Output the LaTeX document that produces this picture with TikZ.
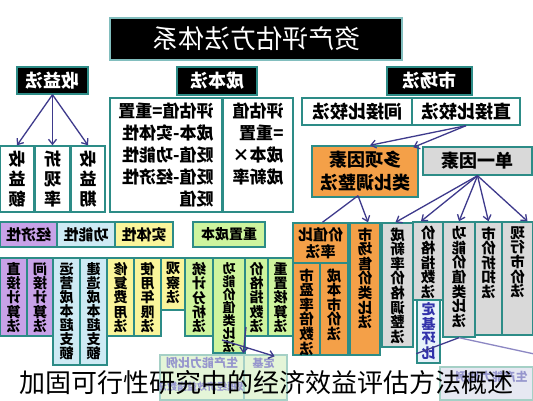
\documentclass[tikz,border=0pt]{standalone}
\usepackage{fontspec}
\setmainfont{Noto Sans CJK SC}
\usetikzlibrary{arrows.meta,calc}
\definecolor{tealc}{RGB}{45,140,135}
\definecolor{titlec}{RGB}{130,190,190}
\definecolor{orangec}{RGB}{244,160,72}
\definecolor{grayc}{RGB}{217,217,217}
\definecolor{purplec}{RGB}{200,162,232}
\definecolor{bluec}{RGB}{206,234,244}
\definecolor{yellowc}{RGB}{250,245,155}
\definecolor{greenc}{RGB}{206,244,158}
\definecolor{arrowc}{RGB}{62,58,140}
\definecolor{fadetext}{RGB}{150,150,205}
\definecolor{fadegreen}{RGB}{228,245,216}
\definecolor{fadeteal}{RGB}{165,208,198}
\definecolor{fadegray}{RGB}{230,232,242}
\definecolor{fadearrow}{RGB}{140,135,195}
\definecolor{lightc}{RGB}{232,242,250}
\definecolor{blued}{RGB}{50,50,170}
\begin{document}
\begin{tikzpicture}[x=1pt,y=-1pt,
  flip/.style={xscale=-1},
  box/.style={draw=tealc,line width=1.4pt,inner sep=0pt,flip},
  hd/.style={box,fill=black,text=white,font=\fontsize{18}{20}\selectfont\bfseries},
  cell/.style={box,align=center,font=\fontsize{15}{17}\selectfont\bfseries},
  vt/.style={flip,anchor=north,inner sep=0pt,align=center,font=\fontsize{14.5}{14.6}\selectfont\bfseries},
  arr/.style={draw=arrowc,line width=1.3pt,-{Straight Barb[length=5pt,width=8pt]}},
  ln/.style={draw=arrowc,line width=1.3pt}]
\useasboundingbox (0,0) rectangle (533,400);
\fill[white] (0,0) rectangle (533,400);

% title and the three methods
\node[box,draw=titlec,fill=black,text=white,minimum width=292,minimum height=42,font=\fontsize{26}{28}\selectfont] (title) at (256,39) {资产评估方法体系};
\node[hd,minimum width=71,minimum height=27] (syf) at (52.5,80.5) {收益法};
\node[hd,minimum width=80,minimum height=28] (cbf) at (217,81) {成本法};
\node[hd,minimum width=85,minimum height=28] (scf) at (429.5,81) {市场法};

% income method
\node[cell,minimum width=34,minimum height=66,font=\fontsize{17}{20}\selectfont\bfseries] (sye) at (17,179) {收\\益\\额};
\node[cell,minimum width=35,minimum height=66,font=\fontsize{17}{20}\selectfont\bfseries] (zxl) at (52.5,179) {折\\现\\率};
\node[cell,minimum width=34,minimum height=66,font=\fontsize{17}{20}\selectfont\bfseries] (syq) at (88,179) {收\\益\\期};
\draw[arr] (syf.south) -- (sye.north);
\draw[arr] (syf.south) -- (zxl.north);
\draw[arr] (syf.south) -- (syq.north);

% cost method
\node[box,minimum width=112,minimum height=114,align=left,font=\fontsize{17}{22}\selectfont\bfseries] (cbgs) at (166,155) {评估值=重置\\成本-实体性\\贬值-功能性\\贬值-经济性\\贬值};
\node[box,minimum width=70,minimum height=114] (cbxs) at (258,155) {};
\node[vt,align=left,font=\fontsize{17}{22}\selectfont\bfseries] (cbxs-t) at ($(cbxs.north)+(0,5)$) {评估值\\=重置\\成本×\\成新率};

\node[cell,fill=purplec,minimum width=57,minimum height=25] (jjx) at (28.5,234.5) {经济性};
\node[cell,fill=bluec,minimum width=58,minimum height=25] (gnx) at (86,234.5) {功能性};
\node[cell,fill=yellowc,minimum width=58,minimum height=25] (stx) at (144,234.5) {实体性};
\node[cell,fill=greenc,minimum width=72,minimum height=25,font=\fontsize{14}{16}\selectfont\bfseries] (czcb) at (229,234.5) {重置成本};

\node[box,fill=purplec,minimum width=27,minimum height=78] (zjjs) at (13.5,297) {};
\node[vt,font=\fontsize{14}{14.2}\selectfont\bfseries] (zjjs-t) at ($(zjjs.north)+(0,5)$) {直\\接\\计\\算\\法};
\node[box,fill=purplec,minimum width=26,minimum height=78] (jjjs) at (40,297) {};
\node[vt,font=\fontsize{14}{14.2}\selectfont\bfseries] (jjjs-t) at ($(jjjs.north)+(0,5)$) {间\\接\\计\\算\\法};
\node[box,fill=bluec,minimum width=27,minimum height=107] (yycb) at (66.5,311.5) {};
\node[vt,font=\fontsize{14}{14}\selectfont\bfseries] (yycb-t) at ($(yycb.north)+(0,5)$) {运\\营\\成\\本\\超\\支\\额};
\node[box,fill=bluec,minimum width=27,minimum height=107] (jzcb) at (93.5,311.5) {};
\node[vt,font=\fontsize{14}{14}\selectfont\bfseries] (jzcb-t) at ($(jzcb.north)+(0,5)$) {建\\造\\成\\本\\超\\支\\额};
\node[box,fill=yellowc,minimum width=27,minimum height=78] (xffy) at (120.5,297) {};
\node[vt,font=\fontsize{14}{14.2}\selectfont\bfseries] (xffy-t) at ($(xffy.north)+(0,5)$) {修\\复\\费\\用\\法};
\node[box,fill=yellowc,minimum width=27,minimum height=78] (synx) at (147.5,297) {};
\node[vt,font=\fontsize{14}{14.2}\selectfont\bfseries] (synx-t) at ($(synx.north)+(0,5)$) {使\\用\\年\\限\\法};
\node[box,fill=yellowc,minimum width=24,minimum height=52] (gcf) at (173,284) {};
\node[vt,font=\fontsize{14}{14.2}\selectfont\bfseries] (gcf-t) at ($(gcf.north)+(0,5)$) {观\\察\\法};
\node[box,fill=greenc,minimum width=28,minimum height=78] (tjfx) at (199,297) {};
\node[vt,font=\fontsize{14}{14.2}\selectfont\bfseries] (tjfx-t) at ($(tjfx.north)+(0,5)$) {统\\计\\分\\析\\法};
\node[box,fill=greenc,minimum width=32,minimum height=95] (gnjz) at (229,305.5) {};
\node[vt,font=\fontsize{13}{13}\selectfont\bfseries] (gnjz-t) at ($(gnjz.north)+(0,5)$) {功\\能\\价\\值\\类\\比\\法};
\node[box,fill=greenc,minimum width=23,minimum height=78] (jgzs) at (256.5,297) {};
\node[vt,font=\fontsize{14}{14.2}\selectfont\bfseries] (jgzs-t) at ($(jgzs.north)+(0,5)$) {价\\格\\指\\数\\法};
\node[box,fill=greenc,minimum width=25,minimum height=78] (czhs) at (280.5,297) {};
\node[vt,font=\fontsize{14}{14.2}\selectfont\bfseries] (czhs-t) at ($(czhs.north)+(0,5)$) {重\\置\\核\\算\\法};

% faded boxes at the foot
\node[box,draw=fadeteal,fill=fadegreen,minimum width=84,minimum height=45] (scbl) at (202,377.5) {};
\node[vt,text=fadetext,font=\fontsize{12}{13}\selectfont\bfseries] (scbl-t) at ($(scbl.north)+(0,3)$) {生产能力比例};
\node[vt,text=fadetext,font=\fontsize{10}{11}\selectfont\bfseries] (gmjj-t) at ($(scbl.north)+(0,27)$) {规模经济效益指数法};
\node[box,draw=fadeteal,fill=fadegreen,minimum width=43,minimum height=45] (djc) at (265.5,377.5) {};
\node[vt,text=fadetext,font=\fontsize{11}{12}\selectfont\bfseries] (djc-t) at ($(djc.north)+(-2,3)$) {定基};
\coordinate (gnjzo) at (222,340);
\coordinate (jgzso) at (246,327);
\draw[arr] (gnjzo) -- ($(scbl.north west)+(30,2)$);
\draw[arr] (jgzso) -- ($(djc.north east)+(0,-1)$);

% market method
\node[cell,minimum width=110,minimum height=27,font=\fontsize{18}{20}\selectfont\bfseries] (jjbj) at (357,111.5) {间接比较法};
\node[cell,minimum width=108,minimum height=27,font=\fontsize{18}{20}\selectfont\bfseries] (zjbj) at (466,111.5) {直接比较法};
\node[cell,fill=orangec,minimum width=106,minimum height=51,font=\fontsize{18}{23}\selectfont\bfseries] (dxys) at (365,171.5) {多项因素\\类比调整法};
\node[cell,fill=grayc,minimum width=109,minimum height=28,font=\fontsize{18}{20}\selectfont\bfseries] (dyys) at (477.5,161) {单一因素};
\draw[arr] (zjbj.south) -- ($(dxys.north)+(5,0)$);
\draw[arr] (zjbj.south) -- ($(dyys.north east)+(-9,1)$);

\node[cell,fill=orangec,minimum width=55,minimum height=40,font=\fontsize{15}{17}\selectfont\bfseries] (jzbl) at (320.5,243) {价值比\\率法};
\node[box,fill=orangec,minimum width=27,minimum height=92] (sylb) at (306.5,309) {};
\node[vt] (sylb-t) at ($(sylb.north)+(0,6)$) {市\\盈\\率\\倍\\数\\法};
\node[box,fill=orangec,minimum width=28,minimum height=92] (cbsj) at (334,309) {};
\node[vt] (cbsj-t) at ($(cbsj.north)+(0,6)$) {成\\本\\市\\价\\法};
\node[box,fill=orangec,minimum width=30,minimum height=132] (scsj) at (365,289) {};
\node[vt] (scsj-t) at ($(scsj.north)+(0,5)$) {市\\场\\售\\价\\类\\比\\法};
\node[box,fill=grayc,minimum width=31,minimum height=124] (cxl) at (397.5,285) {};
\node[vt] (cxl-t) at ($(cxl.north)+(0,5)$) {成\\新\\率\\价\\格\\调\\整\\法};
\node[box,fill=grayc,minimum width=30,minimum height=78] (jgzs2) at (428,261) {};
\node[vt] (jgzs2-t) at ($(jgzs2.north)+(0,5)$) {价\\格\\指\\数\\法};
\node[box,fill=lightc,minimum width=23,minimum height=63] (djhb) at (428.5,331.5) {};
\node[vt,text=blued,font=\fontsize{14}{14.5}\selectfont\bfseries] (djhb-t) at ($(djhb.north)+(0,3)$) {定\\基\\环\\比};
\node[box,fill=grayc,minimum width=32,minimum height=115] (gnjz2) at (459,279.5) {};
\node[vt] (gnjz2-t) at ($(gnjz2.north)+(0,5)$) {功\\能\\价\\值\\类\\比\\法};
\node[box,fill=grayc,minimum width=27,minimum height=113] (sjzk) at (488.5,278.5) {};
\node[vt] (sjzk-t) at ($(sjzk.north)+(0,5)$) {市\\价\\折\\扣\\法};
\node[box,fill=grayc,minimum width=31,minimum height=113] (xxsj) at (517.5,278.5) {};
\node[vt] (xxsj-t) at ($(xxsj.north)+(0,5)$) {现\\行\\市\\价\\法};

\coordinate (dxyso) at ($(dxys.south)+(-7,-2)$);
\draw[ln] (dxyso) -- ($(jzbl.north)+(2,0)$);
\draw[arr] (dxyso) -- ($(scsj.north)+(3,0)$);
\draw[arr] (dyys.south) -- ($(cxl.north)+(-2,0)$);
\draw[arr] (dyys.south) -- ($(jgzs2.north)+(-7,0)$);
\draw[arr] (dyys.south) -- (gnjz2.north);
\draw[arr] (dyys.south) -- (sjzk.north);
\draw[arr] (dyys.south) -- ($(xxsj.north)+(10,0)$);

\node[box,draw=fadeteal,fill=fadegray,minimum width=93,minimum height=33] (scbl2) at (486.5,383.5) {};
\node[vt,text=fadetext,font=\fontsize{12}{13}\selectfont\bfseries] (scbl2-t) at ($(scbl2.north)+(5,5)$) {生产能力比例};
\draw[ln] (gnjz2.south) -- ($(djhb.south east)+(0,-10)$);
\draw[arr,draw=fadearrow] (gnjz2.south) -- ($(scbl2.north west)+(53,-1)$);

% caption over the picture
\node[font=\fontsize{26}{28}\selectfont] (cap) at (266.5,383) {加固可行性研究中的经济效益评估方法概述};
\end{tikzpicture}
\end{document}
